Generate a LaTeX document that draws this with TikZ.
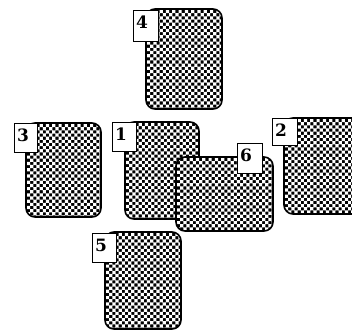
\documentclass[tikz,border=0pt]{standalone}
\usepackage{fontspec}
\setmainfont{DejaVu Serif}
\tikzset{
  cardedge/.style={draw=black, line width=1.6pt, rounded corners=9pt},
  labbox/.style={draw=black, fill=white, line width=1.3pt, anchor=north west, inner sep=0pt},
  num/.style={anchor=north west, inner sep=0pt, font=\fontsize{17}{17}\selectfont\bfseries},
}
% #1 x1, #2 y1, #3 x2, #4 y2 (pixels, y downward)
\newcommand\chkcard[4]{%
  \begin{scope}
    \clip[rounded corners=9pt] (#1,#2) rectangle (#3,#4);
    \fill[black] (#1,#2) rectangle (#3,#4);
    \fill[white] \foreach \i in {0,...,16} { \foreach \j in {0,...,17} {
        ({#1+1.0+\i*6.3},{#2+1.0+\j*6.3}) rectangle ++(3.2,3.2)
        ({#1+4.15+\i*6.3},{#2+4.15+\j*6.3}) rectangle ++(3.2,3.2) } };
  \end{scope}
  \draw[cardedge] (#1,#2) rectangle (#3,#4);
}
\newcommand\cardlabel[6]{% name, x, y, w, h, text
  \node[labbox, minimum width=#4pt, minimum height=#5pt] (l#1) at (#2,#3) {};
  \node[num] (n#1) at ([shift={(3,6)}]l#1.north west) {#6};
}
\begin{document}
\begin{tikzpicture}[x=1pt,y=-1pt]
\useasboundingbox (0,0) rectangle (352,330);
% card 4
\chkcard{146}{9}{222}{109}
\cardlabel{4}{133}{10}{25}{31}{4}
% card 3
\chkcard{26}{123}{101}{217}
\cardlabel{3}{14}{123}{23}{29}{3}
% card 1
\chkcard{125}{122}{199}{219}
\cardlabel{1}{112}{122}{24}{29}{1}
% card 5
\chkcard{105}{232}{181}{329}
\cardlabel{5}{92}{233}{24}{29}{5}
% card 6
\chkcard{176}{157}{273}{231}
\cardlabel{6}{237}{143}{25}{30}{6}
% card 2
\chkcard{284}{118}{364}{214}
\cardlabel{2}{272}{118}{25}{27}{2}
\end{tikzpicture}
\end{document}
